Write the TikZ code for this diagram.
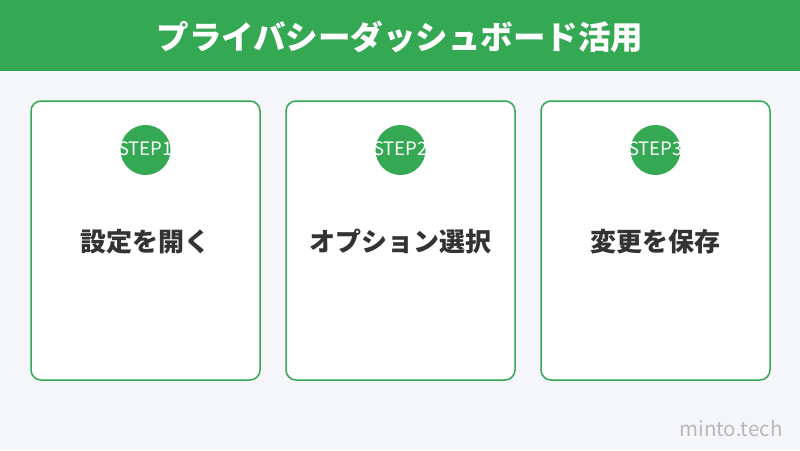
\documentclass[tikz,border=0pt]{standalone}
\usepackage{fontspec}
\setmainfont{Noto Sans CJK JP}
\definecolor{hdr}{HTML}{34A853}
\definecolor{bg}{HTML}{F5F6FA}
\definecolor{txt}{HTML}{333333}
\definecolor{mark}{HTML}{B8B8B8}
\tikzset{
  card/.style={draw=hdr, line width=1.5pt, fill=white, rounded corners=10pt, minimum width=229pt, minimum height=279pt, inner sep=0pt},
  stepcircle/.style={circle, fill=hdr, minimum size=50pt, inner sep=0pt},
  steplabel/.style={text=white, font=\fontsize{18.5}{18.5}\selectfont, inner sep=0pt},
  cardlabel/.style={text=txt, font=\bfseries\fontsize{26}{26}\selectfont, inner sep=0pt}
}
\begin{document}
\begin{tikzpicture}[x=1pt,y=-1pt]
\useasboundingbox (0,0) rectangle (800,450);
\fill[bg] (0,0) rectangle (800,450);
\fill[hdr] (0,0) rectangle (800,71);
\node[text=white, font=\bfseries\fontsize{32.5}{32.5}\selectfont] (title) at (400,37) {プライバシーダッシュボード活用};
\foreach \i/\cx/\lab in {1/145.5/設定を開く, 2/400.5/オプション選択, 3/655.5/変更を保存} {
  \node[card] (card\i) at (\cx,240.5) {};
  \node[stepcircle] (circ\i) at (\cx,150) {};
  \begin{scope}
    \clip (\cx-40,100) rectangle (\cx+40,200);
    \node[steplabel] (step\i) at (\cx,149) {STEP\i};
  \end{scope}
  \node[cardlabel] (lab\i) at (\cx,242) {\lab};
}
\node[text=mark, font=\fontsize{20.5}{20.5}\selectfont, anchor=east] (brand) at (786,428) {minto.tech};
\end{tikzpicture}
\end{document}
